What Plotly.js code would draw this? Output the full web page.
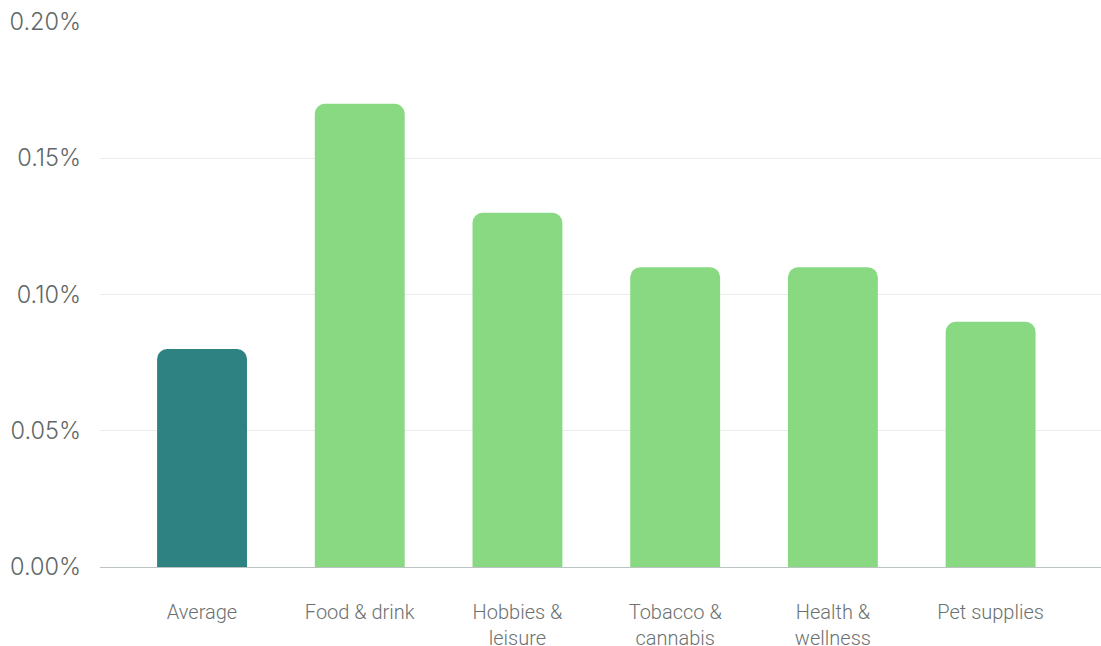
<!DOCTYPE html>
<html>
<head>
<meta charset="utf-8">
<script src="https://cdn.plot.ly/plotly-3.0.1.min.js"></script>
<style>html,body{margin:0;padding:0;background:#fff;}#chart{width:1101px;height:646px;}</style>
</head>
<body>
<div id="chart"></div>
<script>
var categories = ["Average", "Food &amp; drink", "Hobbies &amp;<br>leisure", "Tobacco &amp;<br>cannabis", "Health &amp;<br>wellness", "Pet supplies"];
var values = [0.0008, 0.0017, 0.0013, 0.0011, 0.0011, 0.0009];
var barColors = ["#2e8282", "#88d982", "#88d982", "#88d982", "#88d982", "#88d982"];
var yTicks = [0, 0.0005, 0.001, 0.0015, 0.002];
var yTickLabels = ["0.00%", "0.05%", "0.10%", "0.15%", "0.20%"];

var trace = {
  type: "bar",
  x: categories.map(function(c, i){ return i; }),
  y: values,
  width: 0.57,
  marker: {color: barColors, line: {width: 0}},
  hoverinfo: "none"
};

var layout = {
  width: 1101, height: 646,
  margin: {l: 100, r: 0, t: 22, b: 79},
  paper_bgcolor: "#ffffff", plot_bgcolor: "#ffffff",
  barcornerradius: 10,
  showlegend: false,
  font: {family: "Roboto, sans-serif", weight: 300},
  xaxis: {
    range: [-0.647, 5.70],
    tickmode: "array",
    tickvals: categories.map(function(c, i){ return i; }),
    ticktext: categories,
    ticks: "",
    showgrid: false,
    zeroline: false,
    showline: false,
    ticklabelstandoff: 31,
    tickfont: {family: "Roboto, sans-serif", size: 20, color: "#6b7171", weight: 300}
  },
  yaxis: {
    range: [0, 0.002],
    tickmode: "array",
    tickvals: yTicks,
    ticktext: yTickLabels,
    ticks: "",
    showgrid: true,
    gridcolor: "#ececec",
    gridwidth: 1,
    zeroline: true,
    zerolinecolor: "#bcc3c3",
    zerolinewidth: 1,
    showline: false,
    ticklabelstandoff: 18,
    tickfont: {family: "Inter, sans-serif", size: 23.5, color: "#5f6868", weight: 300}
  }
};

Plotly.newPlot("chart", [trace], layout, {displayModeBar: false, staticPlot: true});
</script>
</body>
</html>
